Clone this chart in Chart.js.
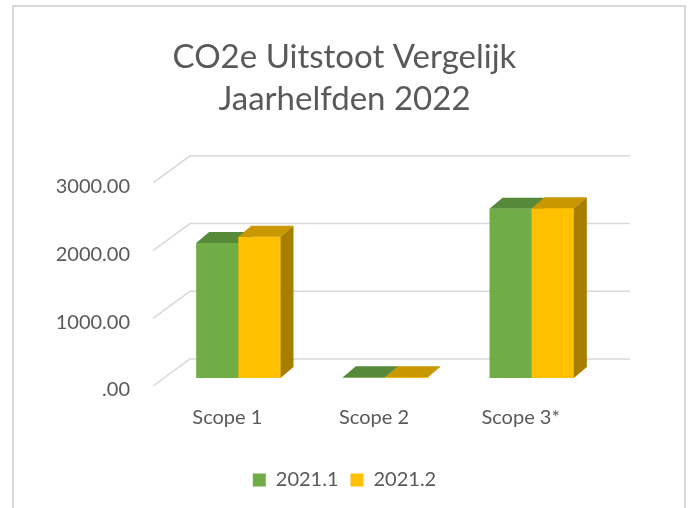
<!DOCTYPE html>
<html>
<head>
<meta charset="utf-8">
<script src="https://cdn.jsdelivr.net/npm/chart.js@4.4.0/dist/chart.umd.min.js"></script>
<style>
  html, body { margin: 0; padding: 0; background: #fff; }
  #wrap { width: 689px; height: 508px; position: relative; }
</style>
</head>
<body>
<div id="wrap"><canvas id="co2Chart"></canvas></div>
<script>
// data
const categories = ['Scope 1', 'Scope 2', 'Scope 3*'];
const seriesNames = ['2021.1', '2021.2'];
const values2021_1 = [1995, 12, 2500];
const values2021_2 = [2085, 12, 2505];
const yTicks = [0, 1000, 2000, 3000];

// kleuren
const green = '#70AD47';
const yellow = '#FFC000';
const topColors = ['#568A38', '#C99700'];
const sideColors = ['#4B7A30', '#A87E00'];
const textColor = '#595959';
const FONT = 'Lato, "Open Sans", sans-serif';

// 3D diepte van de balken en de achterwand
const barDx = 13, barDy = -11;
const wallDx = 37, wallDy = -27;

function drawTopAndSide(ctx, bar, top, side) {
    const p = bar.getProps(['x', 'y', 'base', 'width'], true);
    const x0 = p.x - p.width / 2, x1 = p.x + p.width / 2;
    ctx.fillStyle = top;
    ctx.beginPath();
    ctx.moveTo(x0, p.y);
    ctx.lineTo(x0 + barDx, p.y + barDy);
    ctx.lineTo(x1 + barDx, p.y + barDy);
    ctx.lineTo(x1, p.y);
    ctx.closePath();
    ctx.fill();
    ctx.fillStyle = side;
    ctx.beginPath();
    ctx.moveTo(x1, p.y);
    ctx.lineTo(x1 + barDx, p.y + barDy);
    ctx.lineTo(x1 + barDx, p.base + barDy);
    ctx.lineTo(x1, p.base);
    ctx.closePath();
    ctx.fill();
}

const fake3d = {
    id: 'fake3d',
    beforeDraw(chart) {
        const ctx = chart.ctx;
        ctx.save();
        ctx.fillStyle = '#fff';
        ctx.fillRect(0, 0, chart.width, chart.height);
        // kader
        ctx.strokeStyle = '#d9d9d9';
        ctx.lineWidth = 2;
        ctx.beginPath();
        ctx.moveTo(13, chart.height);
        ctx.lineTo(13, 6);
        ctx.lineTo(685, 6);
        ctx.lineTo(685, chart.height);
        ctx.stroke();
        ctx.restore();
    },
    beforeDatasetsDraw(chart) {
        const ctx = chart.ctx;
        const y = chart.scales.y;
        const area = chart.chartArea;
        ctx.save();
        ctx.strokeStyle = '#d9d9d9';
        ctx.lineWidth = 1.5;
        yTicks.forEach(v => {
            const fx = area.left - 12;
            const fy = y.getPixelForValue(v) + 8;
            ctx.beginPath();
            ctx.moveTo(fx, fy);
            ctx.lineTo(fx + wallDx, fy + wallDy);
            ctx.lineTo(area.right + 25, fy + wallDy);
            ctx.stroke();
        });
        ctx.restore();
    },
    afterDatasetsDraw(chart) {
        const ctx = chart.ctx;
        ctx.save();
        // eerst de groene, dan de gele voorkant opnieuw + zijkanten
        chart.data.datasets.forEach((ds, i) => {
            const meta = chart.getDatasetMeta(i);
            meta.data.forEach(bar => {
                if (i > 0) bar.draw(ctx);
                drawTopAndSide(ctx, bar, topColors[i], sideColors[i]);
            });
        });
        ctx.restore();
    }
};

const ctx = document.getElementById('co2Chart').getContext('2d');
const co2Chart = new Chart(ctx, {
    type: 'bar',
    data: {
        labels: categories,
        datasets: [{
            label: seriesNames[0],
            data: values2021_1,
            backgroundColor: green,
            borderWidth: 0
        }, {
            label: seriesNames[1],
            data: values2021_2,
            backgroundColor: yellow,
            borderWidth: 0
        }]
    },
    options: {
        responsive: true,
        maintainAspectRatio: false,
        animation: false,
        events: [],
        layout: { padding: { left: 0, right: 0, top: 0, bottom: 8 } },
        datasets: { bar: { categoryPercentage: 0.575, barPercentage: 1.0 } },
        plugins: {
            title: {
                display: true,
                text: ['CO2e Uitstoot Vergelijk', 'Jaarhelfden 2022'],
                color: textColor,
                font: { family: FONT, size: 33, weight: 'normal', lineHeight: 1.27 },
                padding: { top: 36, bottom: 55 }
            },
            legend: {
                position: 'bottom',
                labels: {
                    color: textColor,
                    font: { family: FONT, size: 20 },
                    boxWidth: 13,
                    boxHeight: 13,
                    padding: 12
                }
            },
            tooltip: { enabled: false }
        },
        scales: {
            x: {
                grid: { display: false, drawTicks: false },
                border: { display: false },
                ticks: {
                    color: textColor,
                    font: { family: FONT, size: 20 },
                    padding: 28,
                    labelOffset: -11
                }
            },
            y: {
                min: 0,
                max: 3000,
                afterFit(scale) { scale.width = 165; },
                afterBuildTicks(scale) { scale.ticks = yTicks.map(v => ({ value: v })); },
                grid: { display: false, drawTicks: false },
                border: { display: false },
                ticks: {
                    color: textColor,
                    font: { family: FONT, size: 20 },
                    padding: 35,
                    labelOffset: 12,
                    callback: v => v === 0 ? '.00' : v.toFixed(2)
                }
            },
            // lege as rechts, houdt ruimte vrij voor de achterwand
            yRight: {
                position: 'right',
                min: 0,
                max: 3000,
                afterFit(scale) { scale.width = 84; },
                grid: { display: false, drawTicks: false },
                border: { display: false },
                ticks: { display: false }
            }
        }
    },
    plugins: [fake3d]
});
</script>
</body>
</html>
